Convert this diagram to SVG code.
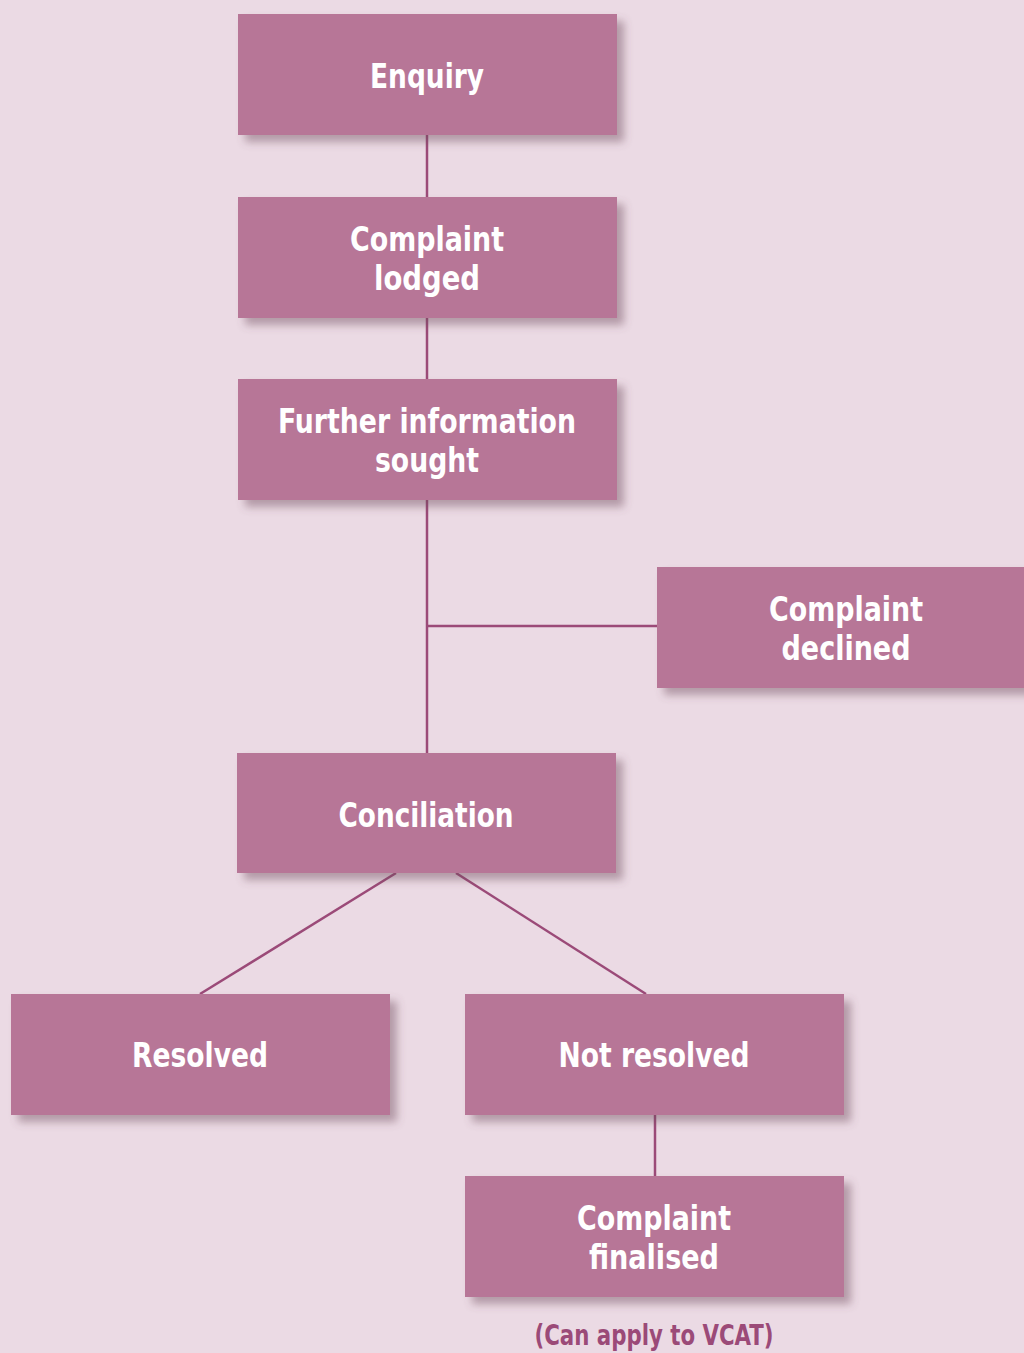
<svg xmlns="http://www.w3.org/2000/svg" width="1024" height="1353" viewBox="0 0 1024 1353">
<defs>
<filter id="sh" x="-10%" y="-20%" width="130%" height="160%">
<feDropShadow dx="7" dy="7" stdDeviation="4" flood-color="#6e4a5c" flood-opacity="0.45"/>
</filter>
</defs>
<style>
.box{fill:#b77697;filter:url(#sh)}
.lbl{font-family:"DejaVu Sans Condensed","DejaVu Sans",sans-serif;font-stretch:condensed;font-weight:bold;font-size:33px;fill:#ffffff;text-anchor:middle}
.con{stroke:#9b4a78;stroke-width:2.5;fill:none}
.note{font-family:"DejaVu Sans Condensed","DejaVu Sans",sans-serif;font-stretch:condensed;font-weight:bold;font-size:28px;fill:#9b4a78;text-anchor:middle}
</style>
<rect width="1024" height="1353" fill="#ebdae4"/>
<g id="connectors">
<line class="con" x1="427" y1="135" x2="427" y2="197"/>
<line class="con" x1="427" y1="318" x2="427" y2="379"/>
<line class="con" x1="427" y1="500" x2="427" y2="753"/>
<line class="con" x1="427" y1="626" x2="657" y2="626"/>
<line class="con" x1="396" y1="873" x2="200" y2="994"/>
<line class="con" x1="456" y1="873" x2="646" y2="994"/>
<line class="con" x1="655" y1="1115" x2="655" y2="1176"/>
</g>
<g id="enquiry"><rect class="box" x="238" y="14" width="379" height="121"/><text class="lbl" x="427" y="88" textLength="114" lengthAdjust="spacingAndGlyphs">Enquiry</text></g>
<g id="lodged"><rect class="box" x="238" y="197" width="379" height="121"/><text class="lbl" x="427" y="251" textLength="154" lengthAdjust="spacingAndGlyphs">Complaint</text><text class="lbl" x="427" y="290" textLength="106" lengthAdjust="spacingAndGlyphs">lodged</text></g>
<g id="further"><rect class="box" x="238" y="379" width="379" height="121"/><text class="lbl" x="427" y="433" textLength="298" lengthAdjust="spacingAndGlyphs">Further information</text><text class="lbl" x="427" y="472" textLength="104" lengthAdjust="spacingAndGlyphs">sought</text></g>
<g id="declined"><rect class="box" x="657" y="567" width="370" height="121"/><text class="lbl" x="846" y="621" textLength="154" lengthAdjust="spacingAndGlyphs">Complaint</text><text class="lbl" x="846" y="660" textLength="129" lengthAdjust="spacingAndGlyphs">declined</text></g>
<g id="conciliation"><rect class="box" x="237" y="753" width="379" height="120"/><text class="lbl" x="426" y="827" textLength="175" lengthAdjust="spacingAndGlyphs">Conciliation</text></g>
<g id="resolved"><rect class="box" x="11" y="994" width="379" height="121"/><text class="lbl" x="200" y="1067" textLength="136" lengthAdjust="spacingAndGlyphs">Resolved</text></g>
<g id="notresolved"><rect class="box" x="465" y="994" width="379" height="121"/><text class="lbl" x="654" y="1067" textLength="191" lengthAdjust="spacingAndGlyphs">Not resolved</text></g>
<g id="finalised"><rect class="box" x="465" y="1176" width="379" height="121"/><text class="lbl" x="654" y="1230" textLength="154" lengthAdjust="spacingAndGlyphs">Complaint</text><text class="lbl" x="654" y="1269" textLength="130" lengthAdjust="spacingAndGlyphs">finalised</text></g>
<text class="note" x="654" y="1345" textLength="239" lengthAdjust="spacingAndGlyphs">(Can apply to VCAT)</text>
</svg>
